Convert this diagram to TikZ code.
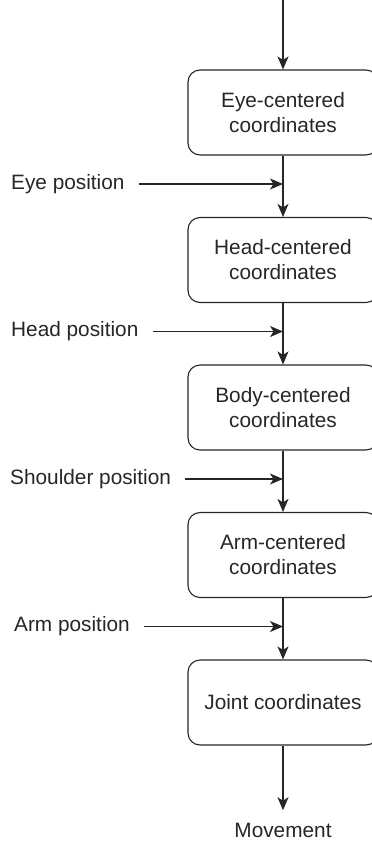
\documentclass[tikz,border=0pt]{standalone}
\usepackage{fontspec}
\setmainfont{Liberation Sans}
\usepackage{tikz}
\usetikzlibrary{arrows.meta}
\tikzset{
    frame/.style = {draw, rounded corners = 12pt, minimum width = 190pt, minimum height = 85pt, align = center, line width = 1.1pt},
    inlabel/.style = {anchor = west, inner sep = 0pt},
    arr/.style = {-{Stealth[length = 13pt, width = 11pt, inset = 3.5pt]}, line width = 1.1pt}
}
\begin{document}
\begin{tikzpicture}[x = 1pt, y = -1pt, font = \fontsize{20.8}{25}\selectfont, color = black!85]
        \useasboundingbox (0, 0) rectangle (372, 841);
        \coordinate (in) at (283, 0);
        \node (eye) at (283, 112.5) [frame] {Eye-centered\\coordinates};
        \node (head) at (283, 260) [frame] {Head-centered\\coordinates};
        \node (body) at (283, 407.5) [frame] {Body-centered\\coordinates};
        \node (arm) at (283, 555) [frame] {Arm-centered\\coordinates};
        \node (joint) at (283, 702.5) [frame] {Joint coordinates};
        \node (move) at (283, 830) {Movement};
        \node (eyepos) at (11, 184) [inlabel] {Eye position};
        \node (headpos) at (11, 331.5) [inlabel] {Head position};
        \node (shoulderpos) at (10, 479) [inlabel] {Shoulder position};
        \node (armpos) at (14, 626.5) [inlabel] {Arm position};
        \coordinate (j1) at (283, 184);
        \coordinate (j2) at (283, 331.5);
        \coordinate (j3) at (283, 479);
        \coordinate (j4) at (283, 626.5);
        \draw [arr] (in) -- (eye);
        \draw [arr] (eye) -- (head);
        \draw [arr] (head) -- (body);
        \draw [arr] (body) -- (arm);
        \draw [arr] (arm) -- (joint);
        \draw [arr, shorten >= 9pt] (joint) -- (move);
        \draw [arr, shorten <= 14pt] (eyepos.east) -- (j1);
        \draw [arr, shorten <= 14pt] (headpos.east) -- (j2);
        \draw [arr, shorten <= 14pt] (shoulderpos.east) -- (j3);
        \draw [arr, shorten <= 14pt] (armpos.east) -- (j4);
    \end{tikzpicture}
\end{document}
